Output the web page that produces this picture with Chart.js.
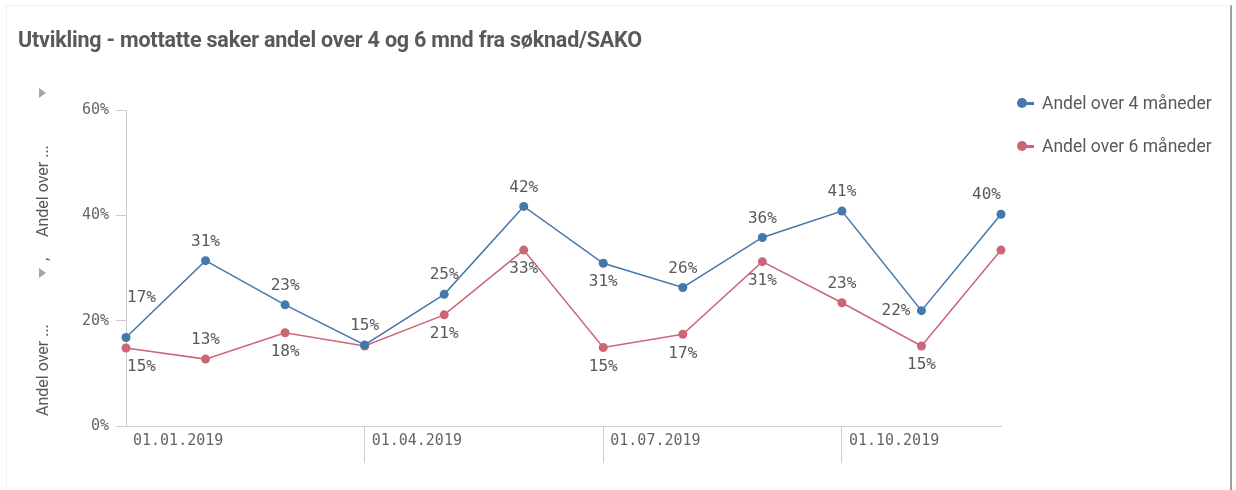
<!DOCTYPE html>
<html>
<head>
<meta charset="utf-8">
<script src="https://cdn.jsdelivr.net/npm/chart.js@4"></script>
<style>
  html, body { margin: 0; padding: 0; background: #fff; }
  #wrap { position: relative; width: 1236px; height: 490px; overflow: hidden; }
  #frame { position: absolute; left: 6px; top: 5px; width: 1226px; height: 500px; border-left: 1px solid #f0f0f0; border-top: 1px solid #f0f0f0; border-right: 2px solid #a0a0a0; box-sizing: border-box; }
  #title { position: absolute; left: 18px; top: 27px; font: 700 21.5px Roboto, sans-serif; color: #595959; white-space: nowrap; letter-spacing: -0.2px; }
  #legend { position: absolute; left: 1016px; top: 91px; font: 17.5px Roboto, sans-serif; color: #595959; }
  .item { position: relative; height: 43px; padding-left: 26px; line-height: 24px; white-space: nowrap; }
  .dot { position: absolute; left: 1px; top: 7px; width: 10px; height: 10px; border-radius: 50%; }
  .bar { position: absolute; left: 6px; top: 11px; width: 12px; height: 3px; }
  canvas { position: absolute; left: 0; top: 0; }
</style>
</head>
<body>
<div id="wrap">
  <div id="frame"></div>
  <canvas id="chart" width="1236" height="490"></canvas>
  <div id="title">Utvikling - mottatte saker andel over 4 og 6 mnd fra søknad/SAKO</div>
  <div id="legend"></div>
</div>
<script>
var months = ["01.01.2019", "01.02.2019", "01.03.2019", "01.04.2019", "01.05.2019", "01.06.2019",
              "01.07.2019", "01.08.2019", "01.09.2019", "01.10.2019", "01.11.2019", "01.12.2019"];
var over4 = [16.8, 31.4, 23.0, 15.4, 25.0, 41.7, 30.9, 26.3, 35.8, 40.8, 21.9, 40.2];
var over6 = [14.8, 12.7, 17.7, 15.2, 21.1, 33.4, 14.9, 17.4, 31.2, 23.4, 15.2, 33.4];
var seriesNames = ["Andel over 4 måneder", "Andel over 6 måneder"];
var yTicks = [0, 20, 40, 60];

// where each value label goes (Qlik moves them to avoid overlaps)
var over4LabelPos = ["high", "above", "above", "above", "above", "above", "below", "above", "above", "above", "left", "above"];
var over6LabelPos = ["below", "above", "below", "none", "below", "below", "below", "below", "below", "above", "below", "none"];

var colors = ["#4477aa", "#cc6677"];
var grey = "#595959";
var monoFont = "16px 'DejaVu Sans Mono', monospace";

// legend
var legend = document.getElementById("legend");
seriesNames.forEach(function (name, i) {
    var div = document.createElement("div");
    div.className = "item";
    div.innerHTML = '<span class="bar" style="background:' + colors[i] + '"></span>' +
        '<span class="dot" style="background:' + colors[i] + '"></span>' + name;
    legend.appendChild(div);
});

var valueLabels = {
    id: "valueLabels",
    afterDatasetsDraw: function (chart) {
        var ctx = chart.ctx;
        var area = chart.chartArea;
        ctx.save();
        ctx.font = monoFont;
        ctx.fillStyle = grey;
        ctx.textBaseline = "middle";
        chart.data.datasets.forEach(function (ds, di) {
            var meta = chart.getDatasetMeta(di);
            meta.data.forEach(function (pt, i) {
                var pos = ds.labelPos[i];
                if (pos === "none") return;
                var txt = Math.round(ds.data[i]) + "%";
                var w = ctx.measureText(txt).width;
                var x = pt.x, y = pt.y;
                ctx.textAlign = "center";
                if (pos === "left") {
                    ctx.textAlign = "right";
                    x = pt.x - 11;
                } else {
                    if (pos === "above") y = pt.y - 19;
                    else if (pos === "high") y = pt.y - 40;
                    else y = pt.y + 19;
                    if (x - w / 2 < area.left) { ctx.textAlign = "left"; x = pt.x + 1; }
                    else if (x + w / 2 > area.right) { ctx.textAlign = "right"; x = pt.x; }
                }
                ctx.fillText(txt, x, y);
            });
        });
        ctx.restore();
    }
};

// rotated y axis title with the little measure-switch arrows
var yTitle = {
    id: "yTitle",
    afterDraw: function (chart) {
        var ctx = chart.ctx;
        ctx.save();
        ctx.fillStyle = "#a6a6a6";
        [93, 273].forEach(function (ty) {
            ctx.beginPath();
            ctx.moveTo(39, ty - 5);
            ctx.lineTo(46, ty);
            ctx.lineTo(39, ty + 5);
            ctx.closePath();
            ctx.fill();
        });
        ctx.translate(44, 0);
        ctx.rotate(-Math.PI / 2);
        ctx.font = "16px Roboto, sans-serif";
        ctx.fillStyle = grey;
        ctx.textBaseline = "middle";
        ctx.textAlign = "left";
        ctx.fillText("Andel over ...", -416, 0);
        ctx.fillText(",", -261, 0);
        ctx.fillText("Andel over ...", -237, 0);
        ctx.restore();
    }
};

new Chart("chart", {
    type: "line",
    data: {
        labels: months,
        datasets: [{
            label: seriesNames[0],
            data: over4,
            labelPos: over4LabelPos,
            borderColor: colors[0],
            backgroundColor: colors[0],
            borderWidth: 1.5,
            pointRadius: 4.5,
            pointBorderWidth: 0,
            clip: false
        }, {
            label: seriesNames[1],
            data: over6,
            labelPos: over6LabelPos,
            borderColor: colors[1],
            backgroundColor: colors[1],
            borderWidth: 1.5,
            pointRadius: 4.5,
            pointBorderWidth: 0,
            clip: false
        }]
    },
    options: {
        responsive: false,
        animation: false,
        layout: { padding: { left: 0, top: 110, right: 235, bottom: 24 } },
        plugins: {
            legend: { display: false },
            tooltip: { enabled: false }
        },
        scales: {
            x: {
                offset: false,
                afterFit: function (scale) { scale.height = 40; },
                border: { color: "#cccccc" },
                grid: {
                    drawOnChartArea: false,
                    tickLength: 37,
                    color: function (c) { return c.index > 0 && c.index % 3 === 0 ? "#cfcfcf" : "rgba(0,0,0,0)"; }
                },
                ticks: {
                    autoSkip: false,
                    maxRotation: 0,
                    align: "start",
                    labelOffset: 7,
                    padding: -31,
                    color: "#666666",
                    font: { family: "'DejaVu Sans Mono', monospace", size: 15 },
                    callback: function (v, i) { return i % 3 === 0 ? months[i] : ""; }
                }
            },
            y: {
                min: yTicks[0],
                max: yTicks[yTicks.length - 1],
                afterFit: function (scale) { scale.width = 126; },
                afterBuildTicks: function (scale) { scale.ticks = yTicks.map(function (v) { return { value: v }; }); },
                border: { color: "#cccccc" },
                grid: { drawOnChartArea: false, tickLength: 10, color: "#cccccc" },
                ticks: {
                    padding: 7,
                    color: "#666666",
                    font: { family: "'DejaVu Sans Mono', monospace", size: 15 },
                    callback: function (v) { return v + "%"; }
                }
            }
        }
    },
    plugins: [valueLabels, yTitle]
});
</script>
</body>
</html>
